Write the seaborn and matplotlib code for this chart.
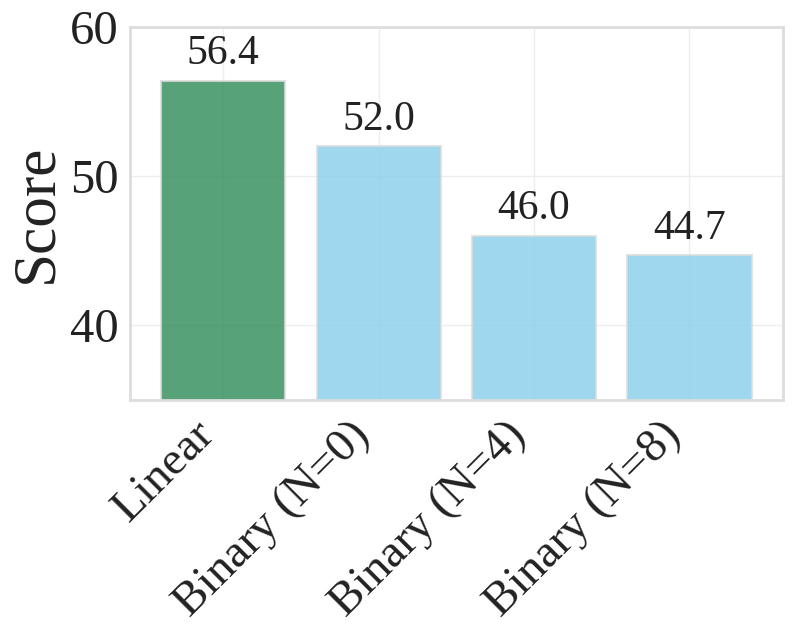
import matplotlib
matplotlib.use('Agg')
import matplotlib.pyplot as plt
import seaborn as sns
import pandas as pd

# values
methods = ['Linear', 'Binary (N=0)', 'Binary (N=4)', 'Binary (N=8)']
scores = [56.4, 52.0, 46.0, 44.7]
colors = ['seagreen', 'skyblue', 'skyblue', 'skyblue']

df = pd.DataFrame({'method': methods, 'score': scores})

sns.set_theme(style='whitegrid')
plt.rcParams['font.family'] = ['Liberation Serif', 'DejaVu Serif']

fig, ax = plt.subplots(figsize=(7.93, 6.41), dpi=100)
sns.barplot(data=df, x='method', y='score', hue='method', palette=colors,
            saturation=1, width=0.8, alpha=0.8, edgecolor='#dddddd', linewidth=1.5,
            legend=False, ax=ax)

for i, v in enumerate(scores):
    ax.text(i, v + 0.5, f'{v:.1f}', ha='center', va='bottom', fontsize=30, color='#222222')

ax.set_ylim(35, 60)
ax.set_xlim(-0.6, 3.6)
ax.set_yticks([40, 50, 60])
ax.set_xlabel('')
ax.set_ylabel('Score', fontsize=44, color='#222222')
ax.tick_params(axis='y', labelsize=35, colors='#222222', pad=2)
ax.tick_params(axis='x', labelsize=34, colors='#222222')
plt.setp(ax.get_xticklabels(), rotation=45, ha='right')
ax.grid(True, color='#eeeeee', linewidth=1)
ax.set_axisbelow(True)
for s in ax.spines.values():
    s.set_color('#dddddd')
    s.set_linewidth(2)

plt.subplots_adjust(left=0.164, right=0.987, top=0.958, bottom=0.376)
plt.savefig('out.png')
